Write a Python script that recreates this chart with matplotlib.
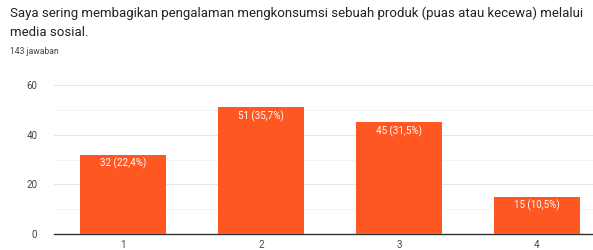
import matplotlib
matplotlib.use("Agg")
import matplotlib.pyplot as plt

categories = ["1", "2", "3", "4"]
values = [32, 51, 45, 15]
labels = ["32 (22,4%)", "51 (35,7%)", "45 (31,5%)", "15 (10,5%)"]
yticks = [0, 20, 40, 60]

plt.rcParams['font.family'] = ['Roboto', 'DejaVu Sans']

fig = plt.figure(figsize=(5.93, 2.5), dpi=100)
fig.text(10/593, 1 - 13/250, "Saya sering membagikan pengalaman mengkonsumsi sebuah produk (puas atau kecewa) melalui",
         fontsize=9.5, color="#222222", va="center", ha="left")
fig.text(10/593, 1 - 33/250, "media sosial.", fontsize=9.5, color="#222222", va="center", ha="left")
fig.text(10/593, 1 - 52/250, "143 jawaban", fontsize=6.2, color="#444444", va="center", ha="left")

ax = fig.add_axes([54/593, 16/250, 552/593, 149/250])
x = list(range(len(categories)))
bars = ax.bar(x, values, width=0.62, color="#FF5722", zorder=3)
for xi, v, lab in zip(x, values, labels):
    ax.text(xi, v - 1.2, lab, ha="center", va="top", color="white", fontsize=7, zorder=4)

ax.set_xlim(-0.5, 3.5)
ax.set_ylim(0, 60)
ax.set_yticks(yticks)
ax.set_yticks([10, 30, 50], minor=True)
ax.set_xticks(x)
ax.set_xticklabels(categories)
ax.grid(axis="y", which="major", color="#e6e6e6", linewidth=0.8, zorder=0)
ax.grid(axis="y", which="minor", color="#f3f3f3", linewidth=0.8, zorder=0)
for s in ["top", "right", "left"]:
    ax.spines[s].set_visible(False)
ax.spines["bottom"].set_color("#333333")
ax.spines["bottom"].set_linewidth(1.0)
ax.tick_params(axis="both", which="both", length=0, labelsize=7, labelcolor="#444444")
ax.tick_params(axis="y", pad=12)
ax.tick_params(axis="x", pad=4)

fig.savefig("out.png", dpi=100)
